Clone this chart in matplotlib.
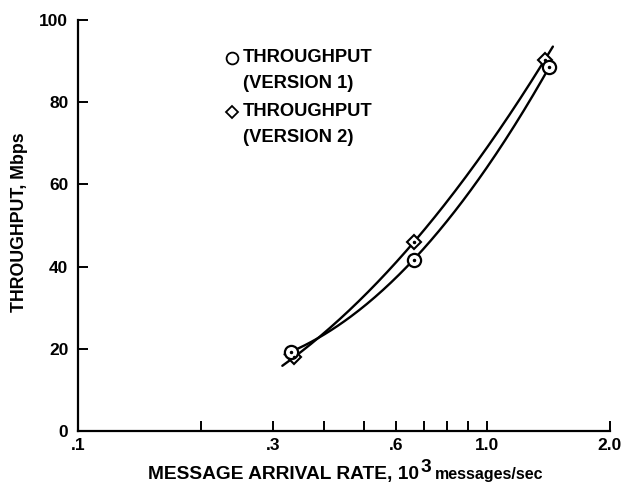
import numpy as np
import matplotlib
matplotlib.use("Agg")
import matplotlib.pyplot as plt
from matplotlib.ticker import FixedLocator, NullFormatter, FixedFormatter

# Measured throughput for two protocol versions
rate_v1 = [0.332, 0.662, 1.42]        # 10^3 messages/sec
tput_v1 = [19.3, 41.7, 88.5]          # Mbps
rate_v2 = [0.338, 0.662, 1.385]
tput_v2 = [18.0, 45.9, 90.3]

major_ticks = [0.1, 0.3, 0.6, 1.0, 2.0]
major_labels = [".1", ".3", ".6", "1.0", "2.0"]
minor_ticks = [0.2, 0.4, 0.5, 0.7, 0.8, 0.9]
y_ticks = [0, 20, 40, 60, 80, 100]

W, H = 628, 484
FONT = "Liberation Sans"
plt.rcParams["font.family"] = [FONT, "DejaVu Sans"]
plt.rcParams["font.weight"] = "bold"

fig = plt.figure(figsize=(W / 100, H / 100), dpi=100)
ax = fig.add_axes([78 / W, 1 - 431 / H, (610 - 78) / W, (431 - 20) / H])

def fitted_curve(x, y, x_lo, x_hi):
    lx = np.log10(x)
    coef = np.polyfit(lx, y, 2)
    xs = np.linspace(np.log10(x_lo), np.log10(x_hi), 200)
    return 10 ** xs, np.polyval(coef, xs)

cx, cy = fitted_curve(rate_v1, tput_v1, 0.320, 1.42)
ax.plot(cx, cy, color="black", lw=1.7, solid_capstyle="round", zorder=2)
cx, cy = fitted_curve(rate_v2, tput_v2, 0.316, 1.45)
ax.plot(cx, cy, color="black", lw=1.7, solid_capstyle="round", zorder=2)

ax.plot(rate_v2, tput_v2, "D", ms=7.5, mfc="white", mec="black", mew=1.5, zorder=3)
ax.plot(rate_v1, tput_v1, "o", ms=9.5, mfc="white", mec="black", mew=1.6, zorder=4)
ax.plot(rate_v2, tput_v2, ".", ms=3, color="black", zorder=5)
ax.plot(rate_v1, tput_v1, ".", ms=3, color="black", zorder=5)

ax.set_xscale("log")
ax.set_xlim(0.1, 2.0)
ax.set_ylim(0, 100)
ax.xaxis.set_major_locator(FixedLocator(major_ticks))
ax.xaxis.set_major_formatter(FixedFormatter(major_labels))
ax.xaxis.set_minor_locator(FixedLocator(minor_ticks))
ax.xaxis.set_minor_formatter(NullFormatter())
ax.set_yticks(y_ticks)

for s in ["top", "right"]:
    ax.spines[s].set_visible(False)
for s in ["left", "bottom"]:
    ax.spines[s].set_linewidth(1.6)

ax.tick_params(axis="both", which="both", direction="in", length=7, width=1.4,
               labelsize=12.5)
ax.tick_params(axis="y", which="both", pad=7)
ax.tick_params(axis="x", which="both", pad=5)
for lab in ax.get_xticklabels() + ax.get_yticklabels():
    lab.set_fontweight("bold")

def fx(px):
    return px / W

def fy(py):
    return 1 - py / H

# Legend drawn as markers and text
fig.lines.append(plt.Line2D([fx(232)], [fy(58)], marker="o", ms=8.5, mfc="white",
                            mec="black", mew=1.3, transform=fig.transFigure))
fig.lines.append(plt.Line2D([fx(232)], [fy(112)], marker="D", ms=6.5, mfc="white",
                            mec="black", mew=1.3, transform=fig.transFigure))
for txt, py in [("THROUGHPUT", 58), ("(VERSION 1)", 84),
                ("THROUGHPUT", 112), ("(VERSION 2)", 138)]:
    fig.text(fx(243), fy(py), txt, fontsize=13.2, fontweight="bold",
             ha="left", va="center")

# Y axis label
fig.text(fx(20), fy(222), "THROUGHPUT, Mbps", rotation=90, fontsize=12.8,
         fontweight="bold", ha="center", va="center")

# X axis label assembled from pieces of different sizes
renderer = fig.canvas.get_renderer()
base_y = fy(479)
x0 = fx(148)
t1 = fig.text(x0, base_y, "MESSAGE ARRIVAL RATE, 10", fontsize=13.8,
              fontweight="bold", ha="left", va="baseline")
bb = t1.get_window_extent(renderer)
x1 = bb.x1 / W + 1 / W
t2 = fig.text(x1, base_y + 7 / H, "3", fontsize=13.8, fontweight="bold",
              ha="left", va="baseline")
bb = t2.get_window_extent(renderer)
x2 = bb.x1 / W + 4 / W
fig.text(x2, base_y, "messages/sec", fontsize=11.5, fontweight="bold",
         ha="left", va="baseline")

fig.savefig("out.png", dpi=100)
